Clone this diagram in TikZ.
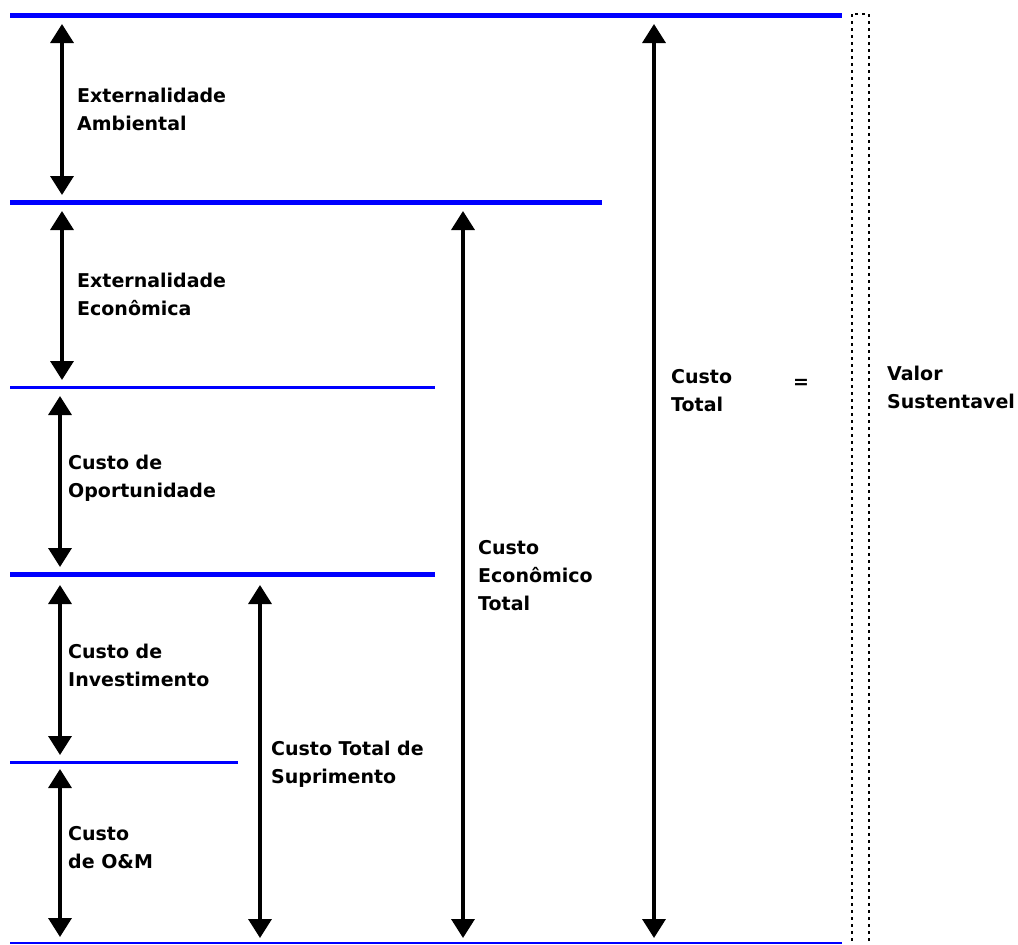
\documentclass[tikz,border=0pt]{standalone}
\usepackage{fontspec}
\setmainfont{DejaVu Sans}
\usetikzlibrary{arrows.meta}

\begin{document}
\begin{tikzpicture}[x=1pt,y=-1pt,level/.style={draw=blue,line cap=butt},span/.style={draw,line width=3.5pt,{Triangle[width=23pt,length=19pt]}-{Triangle[width=23pt,length=19pt]}},every node/.style={font=\bfseries\fontsize{19}{28}\selectfont,align=left,anchor=base west,inner sep=0pt}]
\useasboundingbox (0,0) rectangle (1018,945);
\draw[level,line width=5pt] (10,15) -- (842,15);
\draw[level,line width=5pt] (10,202) -- (602,202);
\draw[level,line width=3pt] (10,387) -- (435,387);
\draw[level,line width=5pt] (10,574) -- (435,574);
\draw[level,line width=3pt] (10,762) -- (238,762);
\draw[level,line width=2pt] (10,943) -- (842,943);
\draw[line width=1.5pt,dash pattern=on 3pt off 4pt] (852,14) rectangle (869,952);
\coordinate (amb-t) at (62,24); \coordinate (amb-b) at (62,195);
\coordinate (eco-t) at (62,211); \coordinate (eco-b) at (62,380);
\coordinate (opo-t) at (60,396); \coordinate (opo-b) at (60,567);
\coordinate (inv-t) at (60,585); \coordinate (inv-b) at (60,755);
\coordinate (om-t) at (60,769); \coordinate (om-b) at (60,937);
\coordinate (sup-t) at (260,585); \coordinate (sup-b) at (260,938);
\coordinate (cet-t) at (463,211); \coordinate (cet-b) at (463,938);
\coordinate (tot-t) at (654,24); \coordinate (tot-b) at (654,938);
\draw[span] (amb-t) -- (amb-b);
\draw[span] (eco-t) -- (eco-b);
\draw[span] (opo-t) -- (opo-b);
\draw[span] (inv-t) -- (inv-b);
\draw[span] (om-t) -- (om-b);
\draw[span] (sup-t) -- (sup-b);
\draw[span] (cet-t) -- (cet-b);
\draw[span] (tot-t) -- (tot-b);
\node (amb) at (77,130) {Externalidade\\Ambiental};
\node (eco) at (77,315) {Externalidade\\Econômica};
\node (opo) at (68,497) {Custo de\\Oportunidade};
\node (inv) at (68,686) {Custo de\\Investimento};
\node (om) at (68,868) {Custo\\de O\&M};
\node (sup) at (271,783) {Custo Total de\\Suprimento};
\node (cet) at (478,610) {Custo\\Econômico\\Total};
\node (tot) at (671,411) {Custo\\Total};
\node (eq) at (793,388) {=};
\node (val) at (887,408) {Valor\\Sustentavel};
\end{tikzpicture}
\end{document}
